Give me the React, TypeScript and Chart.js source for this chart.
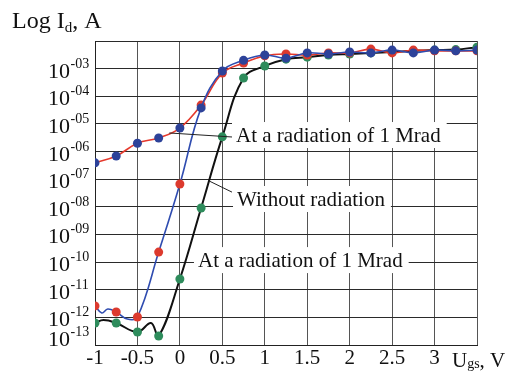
import React, { useEffect, useRef } from 'react';
import { Chart, registerables } from 'chart.js';

Chart.register(...registerables);

// ---- data ----
const markerX = [-1, -0.75, -0.5, -0.25, 0, 0.25, 0.5, 0.75, 1, 1.25, 1.5, 1.75, 2, 2.25, 2.5, 2.75, 3, 3.25, 3.5];
// irradiated (red line, blue markers in subthreshold)
const redLineY = [3.9e-7, 6.9e-7, 2.0e-6, 3.1e-6, 7.1e-6, 4.8e-5, 6.9e-4, 1.6e-3, 2.9e-3, 3.4e-3, 3.1e-3, 3.7e-3, 3.7e-3, 5.1e-3, 3.7e-3, 4.7e-3, 4.4e-3, 4.4e-3, 4.4e-3];
// irradiated (blue line, red markers in subthreshold)
const blueLineY = [2.6e-12, 1.56e-12, 1.03e-12, 2.3e-10, 6.7e-8, 3.8e-5, 8.2e-4, 2.0e-3, 3.1e-3, 2.4e-3, 3.7e-3, 3.4e-3, 4.0e-3, 3.7e-3, 4.7e-3, 3.7e-3, 4.7e-3, 4.4e-3, 4.7e-3];
// without radiation (black line, green markers)
const blackLineY = [6.25e-13, 6.25e-13, 2.95e-13, 2.12e-13, 2.45e-11, 9.1e-9, 3.4e-6, 4.6e-4, 1.25e-3, 2.2e-3, 2.6e-3, 3.1e-3, 3.4e-3, 3.7e-3, 4.0e-3, 4.4e-3, 4.7e-3, 4.9e-3, 6.0e-3];
// unmarked curve points (noise wiggles)
const blueExtraX = [-0.92, -0.85, -0.62];
const blueExtraY = [1.44e-12, 2.01e-12, 8.7e-13];
const blackExtraX = [-0.9, -0.34];
const blackExtraY = [8.0e-13, 6.25e-13];

const yTickExponents = [-3, -4, -5, -6, -7, -8, -9, -10, -11, -12, -13];
const yTickLabels = ['-03', '-04', '-05', '-06', '-07', '-08', '-09', '-10', '-11', '-12', '-13'];

const annotationTexts = ['At a radiation of 1 Mrad', 'Without radiation', 'At a radiation of 1 Mrad'];
const annotationX = [0.661, 0.673, 0.213];
const annotationY = [2.21e-6, 1.07e-8, 6.6e-11];
const leaderFromX = [-0.125, 0.345];
const leaderFromY = [4.7e-6, 8.6e-8];
const leaderToX = [0.614, 0.614];
const leaderToY = [3.36e-6, 3.4e-8];

const FONT = '"Liberation Serif", "Times New Roman", serif';
const RED = '#dc3a2e';
const BLUE = '#2d4299';
const GREEN = '#2e8c5c';

type P = { x: number; y: number; m: boolean };
function buildSeries(ys: number[], ex: number[] = [], ey: number[] = []): P[] {
  const pts: P[] = markerX.map((x, i) => ({ x, y: ys[i], m: true }));
  ex.forEach((x, i) => pts.push({ x, y: ey[i], m: false }));
  pts.sort((a, b) => a.x - b.x);
  return pts;
}

const overlayPlugin = {
  id: 'overlay',
  beforeDatasetsDraw(chart: any) {
    const ctx = chart.ctx;
    const xs = chart.scales.x;
    const ys = chart.scales.y;
    ctx.save();
    ctx.font = `21px ${FONT}`;
    annotationTexts.forEach((t, i) => {
      const px = xs.getPixelForValue(annotationX[i]);
      const py = ys.getPixelForValue(annotationY[i]);
      const w = ctx.measureText(t).width;
      ctx.fillStyle = '#ffffff';
      ctx.fillRect(px - 4, py - 20, w + 10, 26);
    });
    ctx.restore();
  },
  afterDatasetsDraw(chart: any) {
    const ctx = chart.ctx;
    const xs = chart.scales.x;
    const ys = chart.scales.y;
    ctx.save();
    ctx.strokeStyle = '#222';
    ctx.lineWidth = 1;
    leaderFromX.forEach((_, i) => {
      ctx.beginPath();
      ctx.moveTo(xs.getPixelForValue(leaderFromX[i]), ys.getPixelForValue(leaderFromY[i]));
      ctx.lineTo(xs.getPixelForValue(leaderToX[i]), ys.getPixelForValue(leaderToY[i]));
      ctx.stroke();
    });
    ctx.font = `21px ${FONT}`;
    ctx.fillStyle = '#111';
    ctx.textAlign = 'left';
    ctx.textBaseline = 'alphabetic';
    annotationTexts.forEach((t, i) => {
      ctx.fillText(t, xs.getPixelForValue(annotationX[i]), ys.getPixelForValue(annotationY[i]));
    });
    ctx.restore();
  },
  afterDraw(chart: any) {
    const ctx = chart.ctx;
    const ys = chart.scales.y;
    const area = chart.chartArea;
    ctx.save();
    ctx.fillStyle = '#111';
    ctx.textBaseline = 'alphabetic';
    ys.ticks.forEach((t: any) => {
      const e = Math.round(Math.log10(t.value));
      const idx = yTickExponents.indexOf(e);
      if (idx < 0) return;
      const py = ys.getPixelForValue(t.value);
      const base = Math.min(py + 9, area.bottom + 1);
      const xr = area.left - 25;
      ctx.font = `22px ${FONT}`;
      ctx.textAlign = 'right';
      ctx.fillText('10', xr, base);
      ctx.font = `14px ${FONT}`;
      ctx.textAlign = 'left';
      ctx.fillText(yTickLabels[idx], xr + 0.5, base - 10);
    });
    // y title
    ctx.textAlign = 'left';
    let x = 12;
    ctx.font = `24px ${FONT}`;
    ctx.fillText('Log I', x, 28);
    x += ctx.measureText('Log I').width;
    ctx.font = `15px ${FONT}`;
    ctx.fillText('d', x, 32);
    x += ctx.measureText('d').width;
    ctx.font = `24px ${FONT}`;
    ctx.fillText(', A', x, 28);
    // x title
    x = 452;
    ctx.font = `21px ${FONT}`;
    ctx.fillText('U', x, 367);
    x += ctx.measureText('U').width;
    ctx.font = `14px ${FONT}`;
    ctx.fillText('gs', x, 368);
    x += ctx.measureText('gs').width;
    ctx.font = `21px ${FONT}`;
    ctx.fillText(', V', x, 367);
    ctx.restore();
  },
};

export default function App() {
  const ref = useRef<HTMLCanvasElement>(null);
  useEffect(() => {
    const blue = buildSeries(blueLineY, blueExtraX, blueExtraY);
    const red = buildSeries(redLineY);
    const black = buildSeries(blackLineY, blackExtraX, blackExtraY);
    const chart = new Chart(ref.current as HTMLCanvasElement, {
      type: 'line',
      data: {
        datasets: [
          {
            data: blue,
            borderColor: '#2f4cb0',
            borderWidth: 1.6,
            pointRadius: blue.map((p) => (p.m ? 4.5 : 0)),
            pointBackgroundColor: blue.map((p) => (p.x <= 0 ? RED : BLUE)),
            pointBorderWidth: 0,
            tension: 0.4,
          },
          {
            data: red,
            borderColor: '#e5392c',
            borderWidth: 1.6,
            pointRadius: red.map((p) => (p.m ? 4.5 : 0)),
            pointBackgroundColor: red.map((p) => (p.x <= 0 ? BLUE : RED)),
            pointBorderWidth: 0,
            tension: 0.4,
          },
          {
            data: black,
            borderColor: '#111111',
            borderWidth: 2,
            pointRadius: black.map((p) => (p.m ? 4.5 : 0)),
            pointBackgroundColor: GREEN,
            pointBorderWidth: 0,
            tension: 0.4,
          },
        ] as any,
      },
      options: {
        responsive: false,
        animation: false,
        devicePixelRatio: 1,
        layout: { padding: { left: 0, top: 41, right: 46, bottom: 0 } },
        plugins: { legend: { display: false }, tooltip: { enabled: false } },
        scales: {
          x: {
            type: 'linear',
            min: -1,
            max: 3.5,
            afterFit: (s: any) => {
              s.height = 31;
            },
            ticks: {
              stepSize: 0.5,
              autoSkip: false,
              maxRotation: 0,
              padding: 1,
              color: '#111',
              font: { family: FONT, size: 21 },
              callback: (v: any) => (Number(v) > 3.25 ? '' : String(v)),
            },
            grid: { color: '#555', lineWidth: 1, drawTicks: false },
            border: { color: '#222', width: 1 },
          },
          y: {
            type: 'logarithmic',
            min: 1e-13,
            max: 1e-2,
            afterFit: (s: any) => {
              s.width = 95;
            },
            afterBuildTicks: (s: any) => {
              const t = [];
              for (let e = -13; e <= -2; e++) t.push({ value: Number('1e' + e) });
              s.ticks = t;
            },
            ticks: { display: false },
            grid: { color: '#2a2a2a', lineWidth: 1, drawTicks: false },
            border: { color: '#222', width: 1 },
          },
        },
      } as any,
      plugins: [overlayPlugin],
    });
    return () => chart.destroy();
  }, []);
  return (
    <div style={{ position: 'fixed', left: 0, top: 0, width: 523, height: 376, background: '#fff' }}>
      <canvas ref={ref} width={523} height={376} style={{ display: 'block' }} />
    </div>
  );
}
